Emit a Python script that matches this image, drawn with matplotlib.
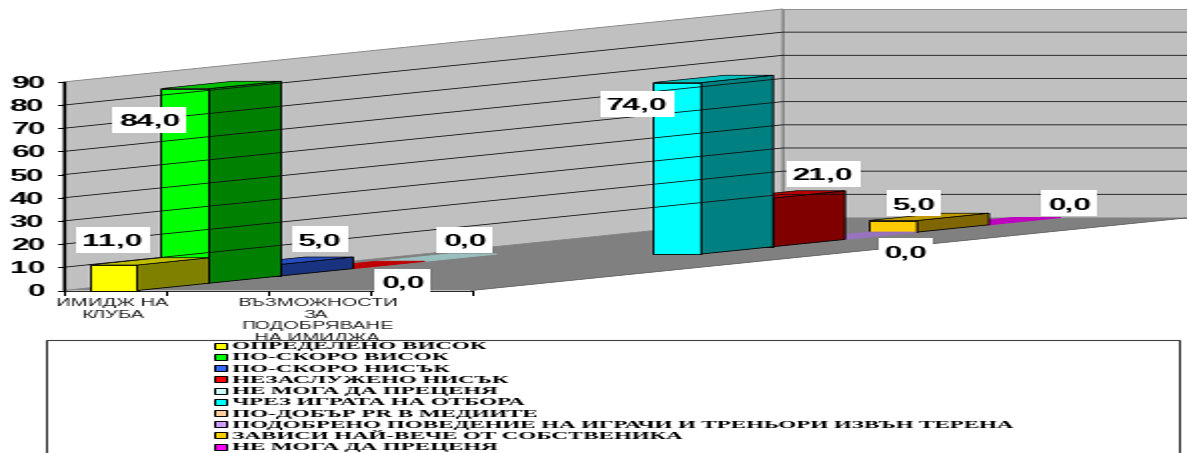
import matplotlib
matplotlib.use('Agg')
import matplotlib.pyplot as plt
from matplotlib.patches import Polygon, Rectangle
from PIL import Image

CATEGORIES = ["ИМИДЖ НА\nКЛУБА", "ВЪЗМОЖНОСТИ\nЗА\nПОДОБРЯВАНЕ\nНА ИМИДЖА"]
SERIES = [
    "ОПРЕДЕЛЕНО ВИСОК",
    "ПО-СКОРО ВИСОК",
    "ПО-СКОРО НИСЪК",
    "НЕЗАСЛУЖЕНО НИСЪК",
    "НЕ МОГА ДА ПРЕЦЕНЯ",
    "ЧРЕЗ ИГРАТА НА ОТБОРА",
    "ПО-ДОБЪР PR В МЕДИИТЕ",
    "ПОДОБРЕНО ПОВЕДЕНИЕ НА ИГРАЧИ И ТРЕНЬОРИ ИЗВЪН ТЕРЕНА",
    "ЗАВИСИ НАЙ-ВЕЧЕ ОТ СОБСТВЕНИКА",
    "НЕ МОГА ДА ПРЕЦЕНЯ",
]
IMAGE_VALUES = [11.0, 84.0, 5.0, 0.0, 0.0]
IMPROVE_VALUES = [74.0, 21.0, 0.0, 5.0, 0.0]
Y_TICKS = [0, 10, 20, 30, 40, 50, 60, 70, 80, 90]

LEGEND_COLORS = ["#FFFF00", "#00FF00", "#3366FF", "#FF0000", "#CCFFFF",
                 "#00FFFF", "#FFCC99", "#CC99FF", "#FFCC00", "#FF00FF"]
BAR_COLORS = ["#FFFF00", "#00FF00", "#3366FF", "#FF0000", "#CCFFFF",
              "#00FFFF", "#FF0000", "#CC99FF", "#FFCC00", "#FF00FF"]

# centre of each value label, in final pixels
LABEL_POS = [(112, 240), (149, 120), (320, 239), (402, 282), (464, 240),
             (636, 104), (822, 174), (905, 251), (913, 203), (1068, 203)]

W, H = 1187, 453
STRETCH = 2        # the chart is laid out narrow, then widened on export
X0, Y0 = 63, 290.5 # front left corner of the floor
UNIT = 2.317       # px per value unit
SLOT = 102         # px per category slot
N_SLOTS = 4
DEPTH_DX, DEPTH_DY = 71.9, 7.3   # px per series along the depth axis
N_DEPTH = len(SERIES)
BAR_PAD, BAR_W = 26, 48
TOP_V = Y_TICKS[-1]

SANS = "Liberation Sans"
SERIF = "Liberation Serif"


def project(x, depth, value):
    """Chart coords (px along x, series depth, value) to figure pixels."""
    return (X0 + x + depth * DEPTH_DX, Y0 - depth * DEPTH_DY - value * UNIT)


def shade(color, factor):
    rgb = matplotlib.colors.to_rgb(color)
    return tuple(c * factor for c in rgb)


def draw_walls(ax):
    full_w = N_SLOTS * SLOT
    back = N_DEPTH
    left_wall = [project(0, 0, 0), project(0, back, 0),
                 project(0, back, TOP_V), project(0, 0, TOP_V)]
    back_wall = [project(0, back, 0), project(full_w, back, 0),
                 project(full_w, back, TOP_V), project(0, back, TOP_V)]
    floor = [project(0, 0, 0), project(full_w, 0, 0),
             project(full_w, back, 0), project(0, back, 0)]
    ax.add_patch(Polygon(left_wall, fc="#C0C0C0", ec="#808080", lw=0.6))
    ax.add_patch(Polygon(back_wall, fc="#C0C0C0", ec="#808080", lw=0.6))
    ax.add_patch(Polygon(floor, fc="#808080", ec="none"))
    # edge of the floor on the open side
    ax.plot(*zip(project(full_w, 0, 0), project(full_w, back, 0)),
            color="#505050", lw=0.5)

    for v in Y_TICKS[1:-1]:
        pts = [project(0, 0, v), project(0, back, v), project(full_w, back, v)]
        ax.plot(*zip(*pts), color="#101010", lw=0.6)


def draw_bar(ax, slot, depth, value, color):
    x1 = slot * SLOT + BAR_PAD
    x2 = x1 + BAR_W
    d2 = depth + 1
    front = [project(x1, depth, 0), project(x2, depth, 0),
             project(x2, depth, value), project(x1, depth, value)]
    side = [project(x2, depth, 0), project(x2, d2, 0),
            project(x2, d2, value), project(x2, depth, value)]
    top = [project(x1, depth, value), project(x2, depth, value),
           project(x2, d2, value), project(x1, d2, value)]
    if value > 0:
        ax.add_patch(Polygon(front, fc=color, ec="black", lw=0.6))
        ax.add_patch(Polygon(side, fc=shade(color, 0.5), ec="black", lw=0.6))
        ax.add_patch(Polygon(top, fc=shade(color, 0.75), ec="black", lw=0.5))
    else:
        # a zero bar is only its flat lid
        ax.add_patch(Polygon(top, fc=shade(color, 0.75),
                             ec=shade(color, 0.75), lw=0.7))


def draw_axes(ax):
    ax.plot(*zip(project(0, 0, 0), project(0, 0, TOP_V)), color="black", lw=0.9)
    ax.plot(*zip(project(0, 0, 0), project(N_SLOTS * SLOT, 0, 0)),
            color="black", lw=0.6)
    for v in Y_TICKS:
        x, y = project(0, 0, v)
        ax.plot([x - 6, x], [y, y], color="black", lw=0.7)
        ax.text(x - 18, y, str(v), ha="right", va="center_baseline",
                family=SANS, weight="bold", fontsize=11.4, color="black")
    for i in range(N_SLOTS + 1):
        x, y = project(i * SLOT, 0, 0)
        ax.plot([x, x], [y, y + 4], color="black", lw=0.7)
    for i, label in enumerate(CATEGORIES):
        x, y = project((2 * i + 0.5) * SLOT, 0, 0)
        ax.text(x - 1, y + 7.5, label, ha="center", va="top", family=SANS,
                fontsize=7.2, linespacing=1.2, color="#202020", zorder=1)


def draw_labels(ax, values):
    for (cx, cy), v in zip(LABEL_POS, values):
        text = f"{v:.1f}".replace(".", ",")
        box_w = 74 if len(text) == 4 else 55
        ax.add_patch(Rectangle((cx - box_w / 2, cy - 13), box_w, 26,
                               fc="white", ec="none", zorder=6))
        ax.text(cx, cy, text, ha="center", va="center_baseline", family=SANS,
                weight="bold", fontsize=11.4, color="black", zorder=7)


def draw_legend(ax):
    ax.add_patch(Rectangle((45, 340), 1133, 130, fc="white", ec="#404040",
                           lw=0.8, zorder=3))
    for i, (name, color) in enumerate(zip(SERIES, LEGEND_COLORS)):
        y = 345.7 + i * 11.22
        ax.add_patch(Rectangle((213, y - 3), 13, 6, fc=color, ec="black",
                               lw=0.7, zorder=4))
        ax.text(232, y, name, ha="left", va="center_baseline", family=SERIF,
                weight="bold", fontsize=8.25, color="black", zorder=4)


def main():
    fig = plt.figure(figsize=(W / STRETCH / 100, H / 100), dpi=100)
    ax = fig.add_axes([0, 0, 1, 1])
    ax.set_xlim(0, W)
    ax.set_ylim(H, 0)
    ax.axis("off")

    draw_walls(ax)
    draw_axes(ax)

    values = IMAGE_VALUES + IMPROVE_VALUES
    slots = [0] * len(IMAGE_VALUES) + [2] * len(IMPROVE_VALUES)
    # back to front so nearer bars cover the ones behind them
    for depth in range(N_DEPTH - 1, -1, -1):
        draw_bar(ax, slots[depth], depth, values[depth], BAR_COLORS[depth])

    draw_labels(ax, values)
    draw_legend(ax)

    fig.savefig("out.png", dpi=100)
    plt.close(fig)

    # widen the narrow layout to the final size
    img = Image.open("out.png").convert("RGB")
    img.resize((W, H), Image.BICUBIC).save("out.png")


if __name__ == "__main__":
    main()
